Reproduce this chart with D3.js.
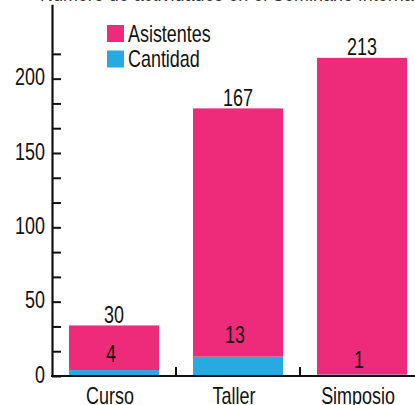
<!DOCTYPE html>
<html>
<head>
<meta charset="utf-8">
<script src="https://cdn.jsdelivr.net/npm/d3@7"></script>
<style>
  html, body { margin: 0; padding: 0; background: #fff; }
  svg text { font-family: "Liberation Sans", Arial, sans-serif; fill: #111; }
</style>
</head>
<body>
<svg id="chart" width="415" height="405"></svg>
<script>
const categories = ["Curso", "Taller", "Simposio"];
const cantidad = [4, 13, 1];
const asistentes = [30, 167, 213];
const seriesNames = ["Asistentes", "Cantidad"];
const yTickLabels = [0, 50, 100, 150, 200];
const titleText = "Número de actividades en el Seminario Internacional";

const colors = { Asistentes: "#EE2A7B", Cantidad: "#27AAE1" };
const SX = 0.78; // horizontal condensing of the type
const FS = 23;

const svg = d3.select("#chart");
const W = 415, H = 405;
const x0 = 52, y0 = 376;

const x = d3.scaleBand().domain(categories).range([x0, 424])
  .paddingInner(0.274).paddingOuter(0.137);
const y = d3.scaleLinear().domain([0, 250]).range([y0, 4.3]);

function ctext(sel, px, py) {
  return sel.attr("transform", (d, i) => `translate(${px(d, i)},${py(d, i)}) scale(${SX},1)`);
}

// clipped title
svg.append("text").attr("transform", `translate(40,1) scale(${SX},1)`)
  .attr("font-size", FS).style("fill", "#333").text(titleText);

// stacked bars
const rows = categories.map((c, i) => ({ cat: c, Cantidad: cantidad[i], Asistentes: asistentes[i] }));
const stack = d3.stack().keys(["Cantidad", "Asistentes"])(rows);
svg.append("g").selectAll("g").data(stack).join("g")
  .attr("fill", d => colors[d.key])
  .selectAll("rect").data(d => d).join("rect")
  .attr("x", d => x(d.data.cat))
  .attr("width", x.bandwidth())
  .attr("y", d => y(d[1]))
  .attr("height", d => y(d[0]) - y(d[1]));

// value labels
const g = svg.append("g").attr("font-size", FS).attr("text-anchor", "middle");
ctext(g.selectAll("text.tot").data(rows).join("text"),
  d => x(d.cat) + x.bandwidth() / 2,
  d => y(d.Cantidad + d.Asistentes) - 2.5)
  .text(d => d.Asistentes);
ctext(g.selectAll("text.cant").data(rows).join("text"),
  d => x(d.cat) + x.bandwidth() / 2 - 3,
  d => y(d.Cantidad * 1.4) - 5.5)
  .text(d => d.Cantidad);

// y axis
const tickVals = d3.range(0, 14).map(i => i * 50 / 3);
const yAxis = d3.axisLeft(y).tickValues(tickVals)
  .tickSizeInner(-9).tickSizeOuter(0).tickPadding(7)
  .tickFormat(v => yTickLabels.some(t => Math.abs(t - v) < 1e-6) ? d3.format("d")(Math.round(v)) : "");
const ya = svg.append("g").attr("transform", `translate(${x0},0)`).call(yAxis);
ya.selectAll("line").attr("stroke", "#111").attr("stroke-width", 2);
ya.select(".domain").attr("stroke", "#111").attr("stroke-width", 2.2);
ya.selectAll("text").attr("font-size", FS).attr("font-family", null)
  .attr("x", -7 / SX).attr("dy", "0.27em")
  .attr("transform", `scale(${SX},1)`).style("fill", "#111");

// x axis
const step = x.step();
const xa = svg.append("g");
xa.append("line").attr("x1", x0 - 1).attr("x2", W).attr("y1", y0).attr("y2", y0)
  .attr("stroke", "#111").attr("stroke-width", 2.2);
xa.selectAll("line.tk").data(categories.slice(1)).join("line")
  .attr("x1", d => x(d) - step * 0.137).attr("x2", d => x(d) - step * 0.137)
  .attr("y1", y0).attr("y2", y0 - 9)
  .attr("stroke", "#111").attr("stroke-width", 2);
ctext(xa.selectAll("text").data(categories).join("text"),
  d => x(d) + x.bandwidth() / 2 - 4, () => 403.8)
  .attr("font-size", FS).attr("text-anchor", "middle")
  .text(d => d);

// legend
const lg = svg.append("g").attr("transform", "translate(107,25)");
seriesNames.forEach((s, i) => {
  lg.append("rect").attr("x", 0).attr("y", i * 25.5).attr("width", 17).attr("height", 17)
    .attr("fill", colors[s]);
  lg.append("text").attr("transform", `translate(21,${i * 25.5 + 16.8}) scale(${SX},1)`)
    .attr("font-size", FS).text(s);
});
</script>
</body>
</html>
